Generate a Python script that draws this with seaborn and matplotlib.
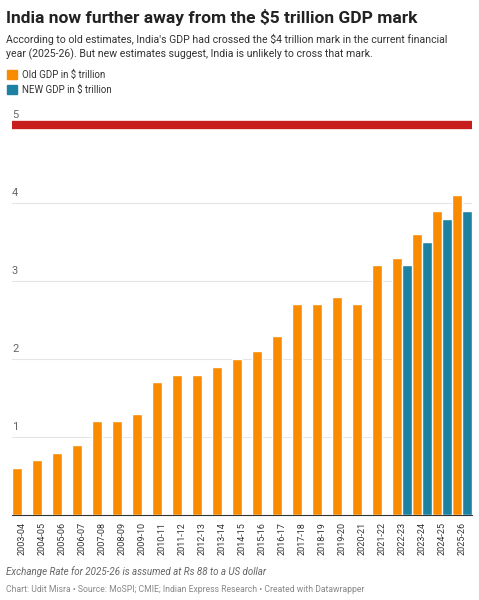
import matplotlib
matplotlib.use("Agg")
import matplotlib.pyplot as plt
import seaborn as sns
import numpy as np

years = ["2003-04","2004-05","2005-06","2006-07","2007-08","2008-09","2009-10","2010-11",
         "2011-12","2012-13","2013-14","2014-15","2015-16","2016-17","2017-18","2018-19",
         "2019-20","2020-21","2021-22","2022-23","2023-24","2024-25","2025-26"]
old_gdp = [0.6,0.7,0.8,0.9,1.2,1.2,1.3,1.7,1.8,1.8,1.9,2.0,2.1,2.3,2.7,2.7,2.8,2.7,3.2,3.3,3.6,3.9,4.1]
new_years = ["2022-23","2023-24","2024-25","2025-26"]
new_gdp = [3.2,3.5,3.8,3.9]
yticks = [1,2,3,4,5]

sns.set_theme(style="white")
plt.rcParams['font.family'] = ['Roboto', 'DejaVu Sans']

fig = plt.figure(figsize=(4.79,6), dpi=100)
ax = fig.add_axes([12/479, 85/600, 460/479, 397/600])
x = np.arange(len(years))
w = 0.5
ax.bar(x - w/2, old_gdp, width=w, color="#f98b00", label="Old GDP in $ trillion", zorder=3)
nx = np.array([years.index(y) for y in new_years])
ax.bar(nx + w/2, new_gdp, width=w, color="#1d81a2", label="NEW GDP in $ trillion", zorder=3)
ax.axhline(5, color="#c71e1d", lw=6, zorder=4)
ax.set_xlim(-0.5, 22.5)
ax.set_ylim(0, 5.09)
for t in yticks:
    if t < 5:
        ax.axhline(t, color="#e5e5e5", lw=0.8, zorder=1)
    ax.text(-0.5, t + 0.06, str(t), fontsize=8, color="#666666", ha="left", va="bottom")
ax.set_yticks([])
ax.set_xticks(x)
ax.set_xticklabels(years, rotation=90, fontsize=6.5, color="#333333")
ax.tick_params(axis="x", length=3, width=0.6, color="#333333", pad=2)
for s in ["top","right","left"]:
    ax.spines[s].set_visible(False)
ax.spines["bottom"].set_color("#333333")
ax.spines["bottom"].set_linewidth(0.8)

fig.text(0.013, 0.985, "India now further away from the $5 trillion GDP mark", fontsize=12.5,
         fontweight="bold", va="top", color="#222222")
fig.text(0.013, 0.943, "According to old estimates, India's GDP had crossed the $4 trillion mark in the current financial\nyear (2025-26). But new estimates suggest, India is unlikely to cross that mark.",
         fontsize=7.6, va="top", color="#333333", linespacing=1.3)
fig.patches.append(plt.Rectangle((0.015, 0.868), 0.02, 0.015, color="#f98b00", transform=fig.transFigure))
fig.text(0.045, 0.875, "Old GDP in $ trillion", fontsize=7, va="center", color="#333333")
fig.patches.append(plt.Rectangle((0.015, 0.843), 0.02, 0.015, color="#1d81a2", transform=fig.transFigure))
fig.text(0.045, 0.850, "NEW GDP in $ trillion", fontsize=7, va="center", color="#333333")
fig.text(0.013, 0.047, "Exchange Rate for 2025-26 is assumed at Rs 88 to a US dollar", fontsize=7,
         style="italic", color="#666666", va="center")
fig.text(0.013, 0.018, "Chart: Udit Misra • Source: MoSPI; CMIE; Indian Express Research • Created with Datawrapper",
         fontsize=6.2, color="#888888", va="center")
fig.savefig("out.png", dpi=100)
